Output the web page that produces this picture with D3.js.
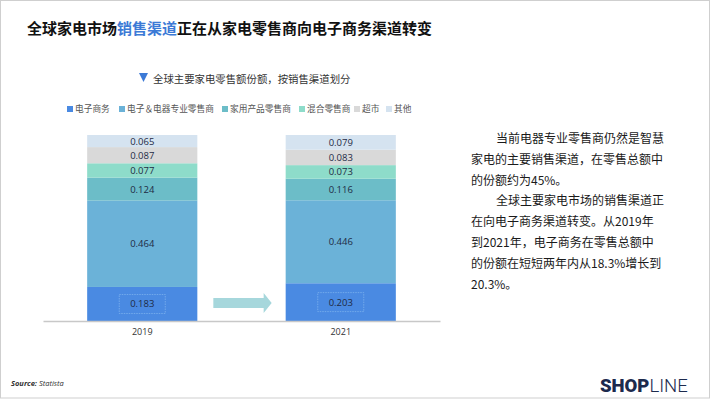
<!DOCTYPE html>
<html>
<head>
    <meta charset="utf-8">
    <title>全球家电零售额份额</title>
    <script src="https://d3js.org/d3.v7.min.js"></script>
    <style>
        body { margin: 0; background: #fff; }
        svg { display: block; font-family: "Noto Sans CJK SC", "Noto Sans", sans-serif; }
        .num { font-family: "Open Sans", "Noto Sans", sans-serif; }
    </style>
</head>
<body>
    <svg id="chart"></svg>

    <script>
        // data
        var years = ["2019", "2021"];
        var channels = ["电子商务", "电子＆电器专业零售商", "家用产品零售商", "混合零售商", "超市", "其他"];
        var share2019 = [0.183, 0.464, 0.124, 0.077, 0.087, 0.065];
        var share2021 = [0.203, 0.446, 0.116, 0.073, 0.083, 0.079];
        var colors = ["#4a8ae2", "#6bb2d8", "#6cbdc8", "#8edcca", "#d9d9d9", "#d5e3f0"];

        var W = 710, H = 399;
        var svg = d3.select("#chart").attr("width", W).attr("height", H);

        // frame
        svg.append("rect").attr("x", 0.5).attr("y", 0.5)
            .attr("width", W - 1).attr("height", H - 1.5)
            .attr("fill", "none").attr("stroke", "#cfcfcf");

        // title
        var title = svg.append("text").attr("x", 27).attr("y", 34)
            .attr("font-size", 15).attr("font-weight", "bold").attr("fill", "#111");
        title.append("tspan").text("全球家电市场");
        title.append("tspan").attr("fill", "#3c7ad6").text("销售渠道");
        title.append("tspan").text("正在从家电零售商向电子商务渠道转变");

        // subtitle with triangle
        svg.append("path").attr("d", "M139,73 L148,73 L143.5,82 Z").attr("fill", "#3c7ad6");
        svg.append("text").attr("x", 153).attr("y", 83)
            .attr("font-size", 10.4).attr("fill", "#333")
            .text("全球主要家电零售额份额，按销售渠道划分");

        // legend
        var legendX = [67, 119, 222, 299, 354, 386];
        var lg = svg.append("g").selectAll("g").data(channels).join("g")
            .attr("transform", function(d, i) { return "translate(" + legendX[i] + ",109)"; });
        lg.append("rect").attr("x", 0).attr("y", -3).attr("width", 6).attr("height", 6)
            .attr("fill", function(d, i) { return colors[i]; });
        lg.append("text").attr("x", 8).attr("y", 3.3)
            .attr("font-size", 8.7).attr("fill", "#555").text(function(d) { return d; });

        // scales
        var x = d3.scaleBand().domain(years).range([43, 440])
            .paddingInner(0.445).paddingOuter(0.2225);
        var y = d3.scaleLinear().domain([0, 1]).range([321, 135]);

        var rows = years.map(function(yr, j) {
            var vals = j === 0 ? share2019 : share2021;
            var acc = 0;
            return vals.map(function(v, i) {
                var seg = { year: yr, i: i, v: v, y0: acc, y1: acc + v };
                acc += v;
                return seg;
            });
        });
        var segs = [].concat(rows[0], rows[1]);

        var g = svg.append("g");
        g.selectAll("rect.seg").data(segs).join("rect")
            .attr("class", "seg")
            .attr("x", function(d) { return x(d.year); })
            .attr("width", x.bandwidth())
            .attr("y", function(d) { return y(d.y1); })
            .attr("height", function(d) { return y(d.y0) - y(d.y1); })
            .attr("fill", function(d) { return colors[d.i]; });

        // dashed box around e-commerce value
        var ecom = segs.filter(function(d) { return d.i === 0; });
        g.selectAll("rect.box").data(ecom).join("rect")
            .attr("class", "box")
            .attr("x", function(d) { return x(d.year) + x.bandwidth() / 2 - 23; })
            .attr("y", function(d) { return (y(d.y0) + y(d.y1)) / 2 - 9.5; })
            .attr("width", 46).attr("height", 19)
            .attr("fill", "none").attr("stroke", "#8fc0f2")
            .attr("stroke-width", 0.6).attr("stroke-dasharray", "1.5,1");

        g.selectAll("text.val").data(segs).join("text")
            .attr("class", "val num")
            .attr("x", function(d) { return x(d.year) + x.bandwidth() / 2; })
            .attr("y", function(d) { return (y(d.y0) + y(d.y1)) / 2 + 3.5; })
            .attr("text-anchor", "middle").attr("font-size", 9.5).attr("fill", "#1f2b45")
            .text(function(d) { return d3.format(".3f")(d.v); });

        // axis
        var xAxis = svg.append("g").attr("transform", "translate(0,321)")
            .call(d3.axisBottom(x).tickSize(0).tickPadding(8));
        xAxis.select(".domain").attr("stroke", "#c8c8c8").attr("stroke-width", 1.5);
        xAxis.selectAll("text").attr("class", "num").attr("font-size", 9).attr("fill", "#333");

        // arrow between the bars
        var ax0 = x(years[0]) + x.bandwidth() + 16, ax1 = x(years[1]) - 14, ay = 303;
        svg.append("path")
            .attr("d", "M" + ax0 + "," + (ay - 5) + " L" + (ax1 - 8) + "," + (ay - 5) +
                " L" + (ax1 - 8) + "," + (ay - 10) + " L" + ax1 + "," + ay +
                " L" + (ax1 - 8) + "," + (ay + 10) + " L" + (ax1 - 8) + "," + (ay + 5) +
                " L" + ax0 + "," + (ay + 5) + " Z")
            .attr("fill", "#a6d7dc");

        // right-hand commentary
        var lines = [
            { t: "当前电器专业零售商仍然是智慧", ind: true },
            { t: "家电的主要销售渠道，在零售总额中" },
            { t: "的份额约为45%。" },
            { t: "全球主要家电市场的销售渠道正", ind: true },
            { t: "在向电子商务渠道转变。从2019年" },
            { t: "到2021年，电子商务在零售总额中" },
            { t: "的份额在短短两年内从18.3%增长到" },
            { t: "20.3%。" }
        ];
        svg.append("g").selectAll("text").data(lines).join("text")
            .attr("x", function(d) { return d.ind ? 496 : 471; })
            .attr("y", function(d, i) { return 143 + i * 20.8; })
            .attr("font-size", 12).attr("fill", "#1a1a1a")
            .text(function(d) { return d.t; });

        // footer
        var src = svg.append("text").attr("x", 11).attr("y", 386)
            .attr("font-size", 7.5).attr("font-style", "italic").attr("fill", "#333")
            .attr("font-family", "Open Sans, sans-serif");
        src.append("tspan").attr("font-weight", "bold").text("Source:");
        src.append("tspan").text(" Statista");

        var logo = svg.append("text").attr("x", 600).attr("y", 392)
            .attr("font-size", 18.5).attr("fill", "#1c2a4d")
            .attr("font-family", "Roboto, sans-serif");
        logo.append("tspan").attr("font-weight", 900).text("SHOP");
        logo.append("tspan").attr("font-weight", 300).text("LINE");
    </script>
</body>
</html>
